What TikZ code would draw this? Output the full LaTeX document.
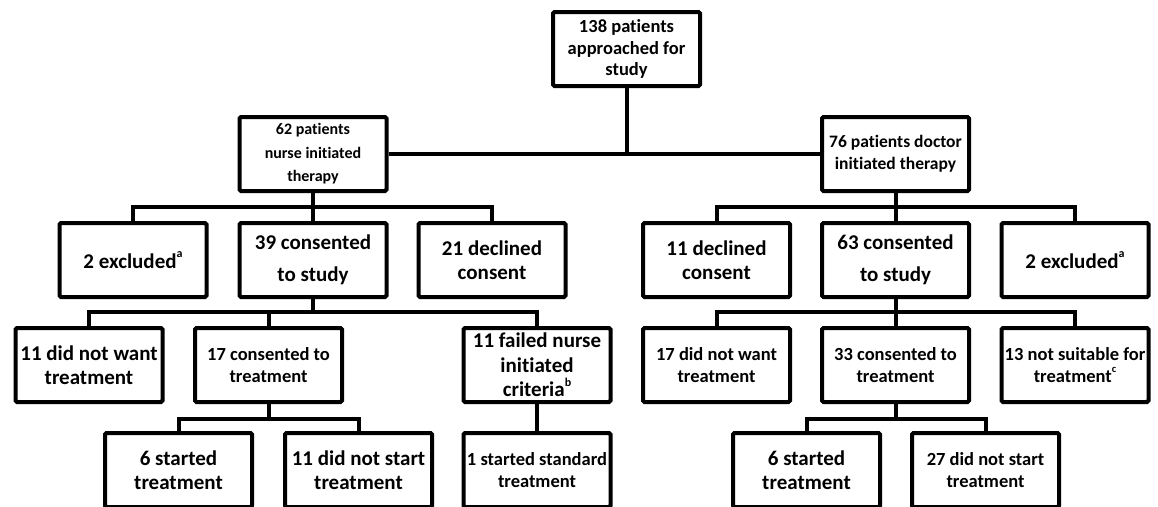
\documentclass[tikz,border=0pt]{standalone}
\usepackage{fontspec}
\setmainfont{Carlito}[RawFeature={-liga;-calt;-clig}]
\newcommand\supL[1]{\raisebox{0.5em}{\fontsize{12}{12}\selectfont #1}}
\newcommand\supM[1]{\raisebox{0.5em}{\fontsize{10.5}{10.5}\selectfont #1}}
\begin{document}
\begin{tikzpicture}[x=1pt,y=-1pt,
  box/.style={draw, line width=4pt, rounded corners=1.5pt, minimum width=147pt, minimum height=74pt, inner sep=0pt, align=center},
  L/.style={box, font=\bfseries\fontsize{21}{24.5}\selectfont},
  M/.style={box, font=\bfseries\fontsize{18.5}{21.5}\selectfont},
  S/.style={box, font=\bfseries\fontsize{16}{23.5}\selectfont},
  D/.style={box, font=\bfseries\fontsize{17.5}{22}\selectfont},
  conn/.style={line width=4pt}]
\useasboundingbox (0,0) rectangle (1158,506);
\clip (0,0) rectangle (1158,506);
% level 0/1
\node[M] (top) at (626.5,49) {138 patients\\approached for\\study};
\node[S] (nurse) at (313,154) {62 patients\\nurse initiated\\therapy};
\node[D] (doctor) at (895.5,154) {76 patients doctor\\initiated therapy};
% level 2
\node[L] (ex1) at (133,260) {2 excluded\supL{a}};
\node[L] (con1) at (313,260) {39 consented\\[8pt]to study};
\node[L] (dec1) at (492,260) {21 declined\\consent};
\node[L] (dec2) at (716.5,260) {11 declined\\consent};
\node[L] (con2) at (895.5,260) {63 consented\\[8pt]to study};
\node[L] (ex2) at (1075,260) {2 excluded\supL{a}};
% level 3
\node[L] (nw1) at (89,365) {11 did not want\\treatment};
\node[M] (ct1) at (268.5,365) {17 consented to\\treatment};
\node[L] (fail1) at (537,365) {11 failed nurse\\initiated\\criteria\supL{b}};
\node[M] (nw2) at (716.5,365) {17 did not want\\treatment};
\node[M] (ct2) at (895.5,365) {33 consented to\\treatment};
\node[M] (ns2) at (1075,365) {13 not suitable for\\treatment\supM{c}};
% level 4
\node[L] (st1) at (178.5,470) {6 started\\treatment};
\node[L] (dns1) at (358.5,470) {11 did not start\\treatment};
\node[M] (std1) at (537,470) {1 started standard\\treatment};
\node[L] (st2) at (806.5,470) {6 started\\treatment};
\node[M] (dns2) at (985.5,470) {27 did not start\\treatment};
% bar points
\coordinate (b1) at (626.5,154);
\coordinate (b2L) at (313,207);
\coordinate (b2R) at (895.5,207);
\coordinate (b3L) at (313,312);
\coordinate (b3R) at (895.5,312);
\coordinate (b4L) at (268.5,419);
\coordinate (b4R) at (895.5,419);
% connectors
\draw[conn] (top.south) -- (b1);
\draw[conn] (nurse.east) -- (doctor.west);
\draw[conn] (nurse.south) -- (con1.north);
\draw[conn] (ex1.north) |- (b2L) -| (dec1.north);
\draw[conn] (doctor.south) -- (con2.north);
\draw[conn] (dec2.north) |- (b2R) -| (ex2.north);
\draw[conn] (con1.south) -- (b3L);
\draw[conn] (nw1.north) |- (b3L) -| (fail1.north);
\draw[conn] (ct1.north) -- (ct1.north |- b3L);
\draw[conn] (con2.south) -- (ct2.north);
\draw[conn] (nw2.north) |- (b3R) -| (ns2.north);
\draw[conn] (ct1.south) -- (b4L);
\draw[conn] (st1.north) |- (b4L) -| (dns1.north);
\draw[conn] (fail1.south) -- (std1.north);
\draw[conn] (ct2.south) -- (b4R);
\draw[conn] (st2.north) |- (b4R) -| (dns2.north);
\end{tikzpicture}
\end{document}
